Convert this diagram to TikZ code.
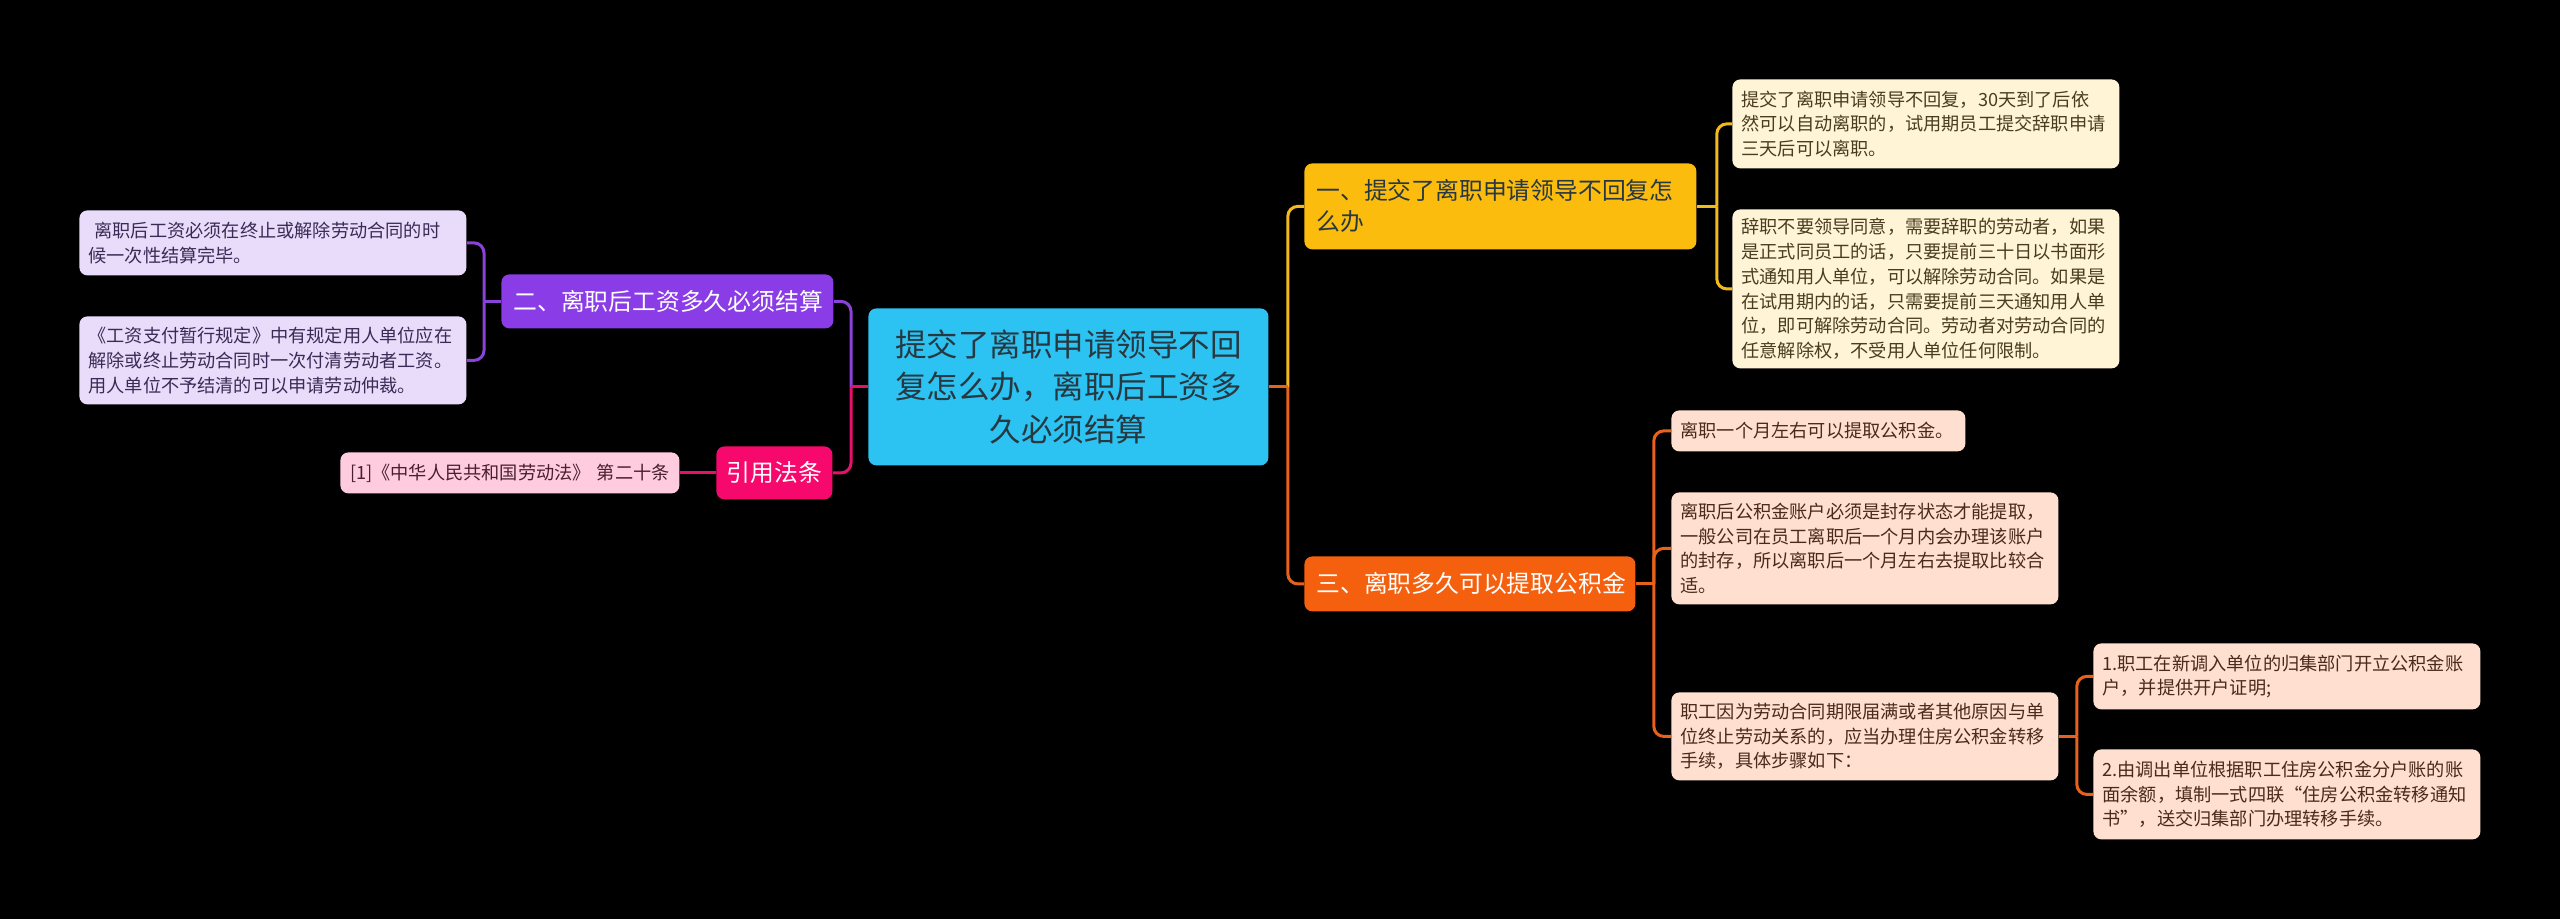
\documentclass[tikz,border=0pt]{standalone}
\usepackage{fontspec}
\setmainfont{Noto Sans CJK SC}
\usetikzlibrary{calc}
\definecolor{bgc}{HTML}{000000}
\definecolor{cenfill}{HTML}{2CC3F3}
\definecolor{centext}{HTML}{283840}
\definecolor{yfill}{HTML}{FBBC0E}
\definecolor{yline}{HTML}{F3BA1C}
\definecolor{yleaf}{HTML}{FFF5D6}
\definecolor{yltext}{HTML}{4A3D1E}
\definecolor{pfill}{HTML}{8A3CE6}
\definecolor{pline}{HTML}{8A42D8}
\definecolor{pleaf}{HTML}{E9DCFA}
\definecolor{pltext}{HTML}{3B2A55}
\definecolor{kfill}{HTML}{F7086C}
\definecolor{kline}{HTML}{E8106A}
\definecolor{kleaf}{HTML}{FFCCDF}
\definecolor{kltext}{HTML}{4A2030}
\definecolor{ofill}{HTML}{F5600E}
\definecolor{oline}{HTML}{E8621C}
\definecolor{oleaf}{HTML}{FFDFCF}
\definecolor{oltext}{HTML}{4A2A1A}
\begin{document}
\begin{tikzpicture}[x=0.5pt,y=-0.5pt,
  base/.style={rounded corners=4pt, anchor=north west, inner ysep=0pt},
  leaf/.style={base, inner xsep=4.5pt, text width=184.5pt, align=left,
    font=\fontsize{9.1pt}{12.35pt}\selectfont},
  topic/.style={base, inner xsep=6pt, font=\fontsize{11.9pt}{15.5pt}\selectfont},
  conn/.style={line width=1.5pt, rounded corners=5pt},
  stub/.style={line width=1.5pt}
]
\useasboundingbox (0,0) rectangle (2560,919);
\fill[bgc] (0,0) rectangle (2560,919);

% central
\node[base, fill=cenfill, text=centext, inner xsep=10pt, text width=180pt,
  minimum height=78.5pt, align=center,
  font=\fontsize{15.75pt}{21.25pt}\selectfont] (central) at (868,308)
  {提交了离职申请领导不回\\复怎么办，离职后工资多\\久必须结算};

% main topics
\node[topic, fill=yfill, text=centext, text width=184pt, minimum height=43pt, align=left]
  (n1) at (1304,163) {一、提交了离职申请领导不回复怎\\么办};
\node[topic, fill=pfill, text=white, text width=154pt, minimum height=27pt, align=center]
  (n2) at (501,274) {二、离职后工资多久必须结算};
\node[topic, fill=ofill, text=white, text width=153.5pt, minimum height=27.5pt, align=center]
  (n3) at (1304,556) {三、离职多久可以提取公积金};
\node[topic, fill=kfill, text=white, inner xsep=2pt, text width=54pt, minimum height=26.5pt, align=center]
  (nyin) at (716,446) {引用法条};

% leaves of 二
\node[leaf, fill=pleaf, text=pltext, minimum height=32.5pt] (L2a) at (79,210)
  {\ 离职后工资必须在终止或解除劳动合同的时\\候一次性结算完毕。};
\node[leaf, fill=pleaf, text=pltext, minimum height=44pt] (L2b) at (79,316)
  {《工资支付暂行规定》中有规定用人单位应在\\解除或终止劳动合同时一次付清劳动者工资。\\用人单位不予结清的可以申请劳动仲裁。};

% law leaf
\node[leaf, fill=kleaf, text=kltext, text width=160.5pt, minimum height=20.5pt, align=center]
  (law) at (340,452) {[1]《中华人民共和国劳动法》 第二十条};

% leaves of 一
\node[leaf, fill=yleaf, text=yltext, minimum height=44.5pt] (L1a) at (1732,79)
  {提交了离职申请领导不回复，30天到了后依\\然可以自动离职的，试用期员工提交辞职申请\\三天后可以离职。};
\node[leaf, fill=yleaf, text=yltext, minimum height=79.5pt] (L1b) at (1732,209)
  {辞职不要领导同意，需要辞职的劳动者，如果\\是正式同员工的话，只要提前三十日以书面形\\式通知用人单位，可以解除劳动合同。如果是\\在试用期内的话，只需要提前三天通知用人单\\位，即可解除劳动合同。劳动者对劳动合同的\\任意解除权，不受用人单位任何限制。};

% leaves of 三
\node[leaf, fill=oleaf, text=oltext, text width=138pt, minimum height=20.5pt] (L3a) at (1671,410)
  {离职一个月左右可以提取公积金。};
\node[leaf, fill=oleaf, text=oltext, minimum height=56pt] (L3b) at (1671,492)
  {离职后公积金账户必须是封存状态才能提取，\\一般公司在员工离职后一个月内会办理该账户\\的封存，所以离职后一个月左右去提取比较合\\适。};
\node[leaf, fill=oleaf, text=oltext, minimum height=44pt] (L3c) at (1671,692)
  {职工因为劳动合同期限届满或者其他原因与单\\位终止劳动关系的，应当办理住房公积金转移\\手续，具体步骤如下：};
\node[leaf, fill=oleaf, text=oltext, minimum height=33pt] (L4a) at (2093,643)
  {1.职工在新调入单位的归集部门开立公积金账\\户，并提供开户证明;};
\node[leaf, fill=oleaf, text=oltext, minimum height=45pt] (L4b) at (2093,749)
  {2.由调出单位根据职工住房公积金分户账的账\\面余额，填制一式四联“住房公积金转移通知\\书”，送交归集部门办理转移手续。};

% junctions
\coordinate (jR) at ($(central.east)+(19,0)$);
\coordinate (jL) at ($(central.west)+(-17,0)$);
\coordinate (j1) at ($(n1.east)+(20,0)$);
\coordinate (j2) at ($(n2.west)+(-17,0)$);
\coordinate (j3) at ($(n3.east)+(18,0)$);
\coordinate (j4) at ($(L3c.east)+(18,0)$);

% connectors
\draw[conn, yline] (jR) |- (n1.west);
\draw[conn, oline] (jR) |- (n3.west);
\draw[stub, oline] (central.east) -- (jR);

\draw[conn, pline] (jL) |- (n2.east);
\draw[conn, kline] (jL) |- (nyin.east);
\draw[stub, kline] (central.west) -- (jL);

\draw[stub, yline] (n1.east) -- (j1);
\draw[conn, yline] (j1) |- (L1a.west);
\draw[conn, yline] (j1) |- (L1b.west);

\draw[stub, pline] (n2.west) -- (j2);
\draw[conn, pline] (j2) |- (L2a.east);
\draw[conn, pline] (j2) |- (L2b.east);

\draw[stub, kline] (nyin.west) -- (law.east);

\draw[stub, oline] (n3.east) -- (j3);
\draw[conn, oline] (j3) |- (L3a.west);
\draw[conn, oline] (j3) |- (L3b.west);
\draw[conn, oline] (j3) |- (L3c.west);

\draw[stub, oline] (L3c.east) -- (j4);
\draw[conn, oline] (j4) |- (L4a.west);
\draw[conn, oline] (j4) |- (L4b.west);
\end{tikzpicture}
\end{document}
